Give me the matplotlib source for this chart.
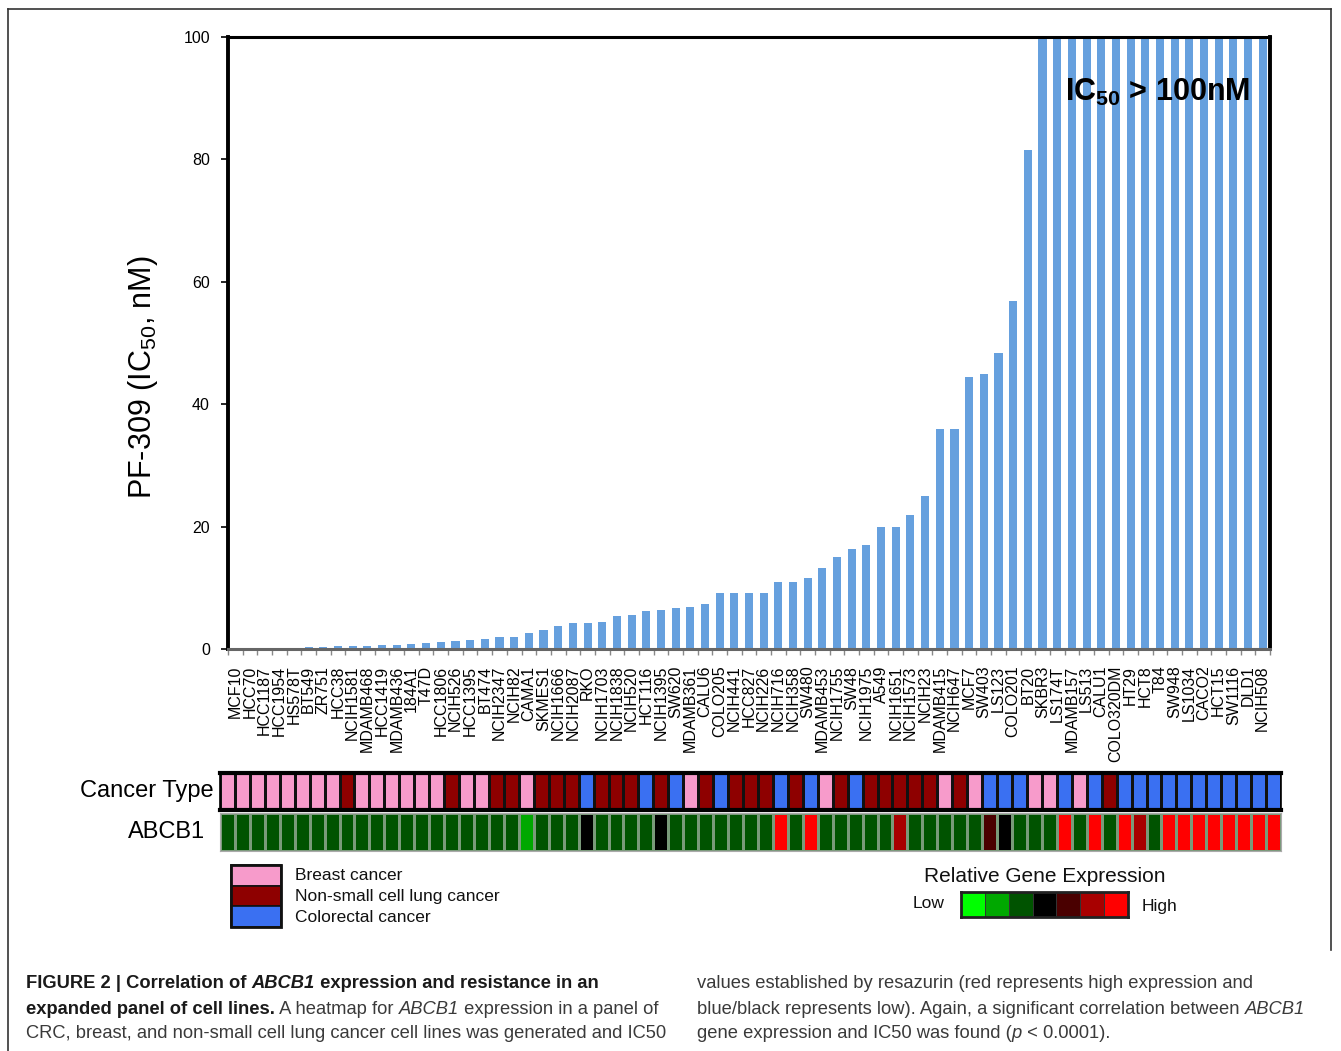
import matplotlib
matplotlib.use('Agg')
import matplotlib.pyplot as plt
from matplotlib.colors import ListedColormap
from matplotlib.patches import Rectangle
import numpy as np

plt.rcParams['font.family'] = ['Liberation Sans', 'DejaVu Sans']
plt.rcParams['mathtext.fontset'] = 'custom'
plt.rcParams['mathtext.rm'] = 'Liberation Sans'
plt.rcParams['mathtext.it'] = 'Liberation Sans:italic'
plt.rcParams['mathtext.bf'] = 'Liberation Sans:bold'

# ---------------- data ----------------
cell_lines = ["MCF10", "HCC70", "HCC1187", "HCC1954", "HS578T", "BT549", "ZR751", "HCC38",
              "NCIH1581", "MDAMB468", "HCC1419", "MDAMB436", "184A1", "T47D", "HCC1806",
              "NCIH526", "HCC1395", "BT474", "NCIH2347", "NCIH82", "CAMA1", "SKMES1",
              "NCIH1666", "NCIH2087", "RKO", "NCIH1703", "NCIH1838", "NCIH520", "HCT116",
              "NCIH1395", "SW620", "MDAMB361", "CALU6", "COLO205", "NCIH441", "HCC827",
              "NCIH226", "NCIH716", "NCIH358", "SW480", "MDAMB453", "NCIH1755", "SW48",
              "NCIH1975", "A549", "NCIH1651", "NCIH1573", "NCIH23", "MDAMB415", "NCIH647",
              "MCF7", "SW403", "LS123", "COLO201", "BT20", "SKBR3", "LS174T", "MDAMB157",
              "LS513", "CALU1", "COLO320DM", "HT29", "HCT8", "T84", "SW948", "LS1034",
              "CACO2", "HCT15", "SW1116", "DLD1", "NCIH508"]

ic50_nM = [0.05, 0.08, 0.12, 0.17, 0.22, 0.33, 0.4, 0.45, 0.5, 0.55,
           0.66, 0.72, 0.75, 0.9, 1.1, 1.3, 1.5, 1.7, 1.9, 2.0,
           2.6, 3.1, 3.7, 4.25, 4.3, 4.4, 5.4, 5.6, 6.2, 6.35,
           6.7, 6.9, 7.3, 9.2, 9.2, 9.2, 9.2, 11.0, 11.0, 11.6,
           13.3, 15.0, 16.4, 17.0, 20.0, 20.0, 21.9, 25.0, 35.9, 35.9,
           44.5, 44.9, 48.4, 56.8, 81.6, 100, 100, 100, 100, 100,
           100, 100, 100, 100, 100, 100, 100, 100, 100, 100, 100]

# B = breast, N = non-small cell lung, C = colorectal
cancer_type = ["B", "B", "B", "B", "B", "B", "B", "B", "N", "B",
               "B", "B", "B", "B", "B", "N", "B", "B", "N", "N",
               "B", "N", "N", "N", "C", "N", "N", "N", "C", "N",
               "C", "B", "N", "C", "N", "N", "N", "C", "N", "C",
               "B", "N", "C", "N", "N", "N", "N", "N", "B", "N",
               "B", "C", "C", "C", "B", "B", "C", "B", "C", "N",
               "C", "C", "C", "C", "C", "C", "C", "C", "C", "C", "C"]

# ABCB1 relative expression level: 0 = lowest (bright green) ... 6 = highest (bright red)
abcb1_level = [2, 2, 2, 2, 2, 2, 2, 2, 2, 2,
               2, 2, 2, 2, 2, 2, 2, 2, 2, 2,
               1, 2, 2, 2, 3, 2, 2, 2, 2, 3,
               2, 2, 2, 2, 2, 2, 2, 6, 2, 6,
               2, 2, 2, 2, 2, 5, 2, 2, 2, 2,
               2, 4, 3, 2, 2, 2, 6, 2, 6, 2,
               6, 5, 2, 6, 6, 6, 6, 6, 6, 6, 6]

type_order = ["B", "N", "C"]
type_names = ["Breast cancer", "Non-small cell lung cancer", "Colorectal cancer"]
type_colors = ["#f79bcb", "#8e0000", "#3a70f2"]
expr_colors = ["#00ff00", "#00a800", "#005300", "#000000", "#4a0000", "#a80000", "#ff0000"]
legend_levels = [0, 1, 2, 3, 4, 5, 6]
yticks = [0, 20, 40, 60, 80, 100]

bar_color = "#66a0de"

# ---------------- figure ----------------
W, H = 1341, 1051
fig = plt.figure(figsize=(W / 100, H / 100), dpi=100)


def rect(x0, y0, x1, y1):
    return [x0 / W, 1 - y1 / H, (x1 - x0) / W, (y1 - y0) / H]


ov = fig.add_axes([0, 0, 1, 1])
ov.set_xlim(0, W)
ov.set_ylim(H, 0)
ov.axis('off')

# outer frame lines
ov.plot([8, 8], [9, H], color='#333333', lw=1.2)
ov.plot([8, 1331], [9, 9], color='#333333', lw=1.2)
ov.plot([1331, 1331], [9, 950], color='#333333', lw=1.2)

# ---------------- bar chart ----------------
n = len(cell_lines)
x = np.arange(n)
ax = fig.add_axes(rect(228, 37, 1270, 649))
ax.bar(x, ic50_nM, width=0.55, color=bar_color, zorder=1)
ax.set_xlim(-0.5, n - 0.5)
ax.set_ylim(0, 100)
ax.set_yticks(yticks)
ax.set_yticklabels([str(v) for v in yticks], fontsize=11.5)
ax.tick_params(axis='y', length=5, width=1.2, color='black', pad=8, direction='out')
ax.set_xticks(x)
ax.set_xticklabels(cell_lines, rotation=90, fontsize=11.5, va='top', ha='center')
ax.tick_params(axis='x', which='major', length=0, pad=12)
ax.set_xticks(np.arange(-0.5, n), minor=True)
ax.tick_params(axis='x', which='minor', length=4, width=1, color='#888888', direction='out')
for s, lw, c in [('left', 2.8, 'black'), ('top', 2.2, 'black'), ('right', 2.8, 'black'),
                 ('bottom', 2.2, '#666666')]:
    ax.spines[s].set_linewidth(lw)
    ax.spines[s].set_color(c)
ax.set_ylabel(r'PF-309 (IC$_{\mathrm{50}}$, nM)', fontsize=22)
ax.yaxis.set_label_coords(-0.082, 0.444)
ax.yaxis.label.set_va('center')
ax.text(0.981, 0.910, r'IC$_{\mathbf{50}}$ > 100nM', transform=ax.transAxes,
        ha='right', va='center', fontsize=22, fontweight='bold', zorder=5)

# ---------------- heatmap rows ----------------
type_codes = np.array([[type_order.index(t) for t in cancer_type]])
axc = fig.add_axes(rect(220, 773, 1281, 810))
axc.pcolormesh(np.arange(n + 1), [0, 1], type_codes, cmap=ListedColormap(type_colors),
               vmin=-0.5, vmax=2.5, edgecolors='#111111', linewidth=1.0)
axc.set_xlim(0, n)
axc.set_ylim(0, 1)
axc.set_xticks([])
axc.set_yticks([])
for s in ['top', 'bottom']:
    axc.spines[s].set_linewidth(3)
for s in ['left', 'right']:
    axc.spines[s].set_linewidth(1.2)
axc.text(-0.006, 0.5, 'Cancer Type', transform=axc.transAxes, ha='right', va='center',
         fontsize=17)

axe = fig.add_axes(rect(220, 813, 1281, 851))
axe.pcolormesh(np.arange(n + 1), [0, 1], np.array([abcb1_level]),
               cmap=ListedColormap(expr_colors), vmin=-0.5, vmax=6.5,
               edgecolors='#7a9a7a', linewidth=0.8)
axe.set_xlim(0, n)
axe.set_ylim(0, 1)
axe.set_xticks([])
axe.set_yticks([])
for s in axe.spines.values():
    s.set_linewidth(0.8)
    s.set_color('#aaaaaa')
axe.text(-0.014, 0.5, 'ABCB1', transform=axe.transAxes, ha='right', va='center',
         fontsize=17)

# ---------------- cancer type legend ----------------
box_y = [865, 885.5, 906]
for i, (name, col) in enumerate(zip(type_names, type_colors)):
    ov.add_patch(Rectangle((231, box_y[i]), 50, 20.5, facecolor=col, edgecolor='#111111', lw=1.2))
    ov.text(295, box_y[i] + 11, name, fontsize=12.5, va='center', ha='left', color='#111111')
ov.add_patch(Rectangle((231, 865), 50, 61.5, facecolor='none', edgecolor='#111111', lw=2))

# ---------------- expression legend ----------------
axl = fig.add_axes(rect(961, 892, 1128, 917))
axl.pcolormesh(np.arange(len(legend_levels) + 1), [0, 1], np.array([legend_levels]),
               cmap=ListedColormap(expr_colors), vmin=-0.5, vmax=6.5,
               edgecolors='#333333', linewidth=0.4)
axl.set_xlim(0, len(legend_levels))
axl.set_ylim(0, 1)
axl.set_xticks([])
axl.set_yticks([])
for s in axl.spines.values():
    s.set_linewidth(2)
    s.set_color('#222222')
ov.text(1045, 877, 'Relative Gene Expression', fontsize=15, ha='center', va='center',
        color='#111111')
ov.text(929, 903, 'Low', fontsize=12.5, ha='center', va='center', color='#111111')
ov.text(1160, 907, 'High', fontsize=12.5, ha='center', va='center', color='#111111')

# ---------------- caption ----------------
fig.canvas.draw()
rend = fig.canvas.get_renderer()
BOLD_C = '#1a1a1a'
NORM_C = '#3a3a3a'
CAP_FS = 13.2


def runs(x0, y0, parts):
    xx = x0
    for txt, style, weight in parts:
        col = BOLD_C if weight == 'bold' else NORM_C
        t = ov.text(xx, y0, txt, fontsize=CAP_FS, fontstyle=style, fontweight=weight,
                    color=col, ha='left', va='center')
        bb = t.get_window_extent(renderer=rend)
        xx += bb.width


runs(26, 983, [("FIGURE 2 | Correlation of ", 'normal', 'bold'),
               ("ABCB1", 'italic', 'bold'),
               (" expression and resistance in an", 'normal', 'bold')])
runs(26, 1009, [("expanded panel of cell lines.", 'normal', 'bold'),
                (" A heatmap for ", 'normal', 'normal'),
                ("ABCB1", 'italic', 'normal'),
                (" expression in a panel of", 'normal', 'normal')])
runs(26, 1033, [("CRC, breast, and non-small cell lung cancer cell lines was generated and IC50",
                 'normal', 'normal')])
runs(697, 983, [("values established by resazurin (red represents high expression and",
                 'normal', 'normal')])
runs(697, 1009, [("blue/black represents low). Again, a significant correlation between ",
                  'normal', 'normal'),
                 ("ABCB1", 'italic', 'normal')])
runs(697, 1033, [("gene expression and IC50 was found (", 'normal', 'normal'),
                 ("p", 'italic', 'normal'),
                 (" < 0.0001).", 'normal', 'normal')])

fig.savefig('out.png', dpi=100)
